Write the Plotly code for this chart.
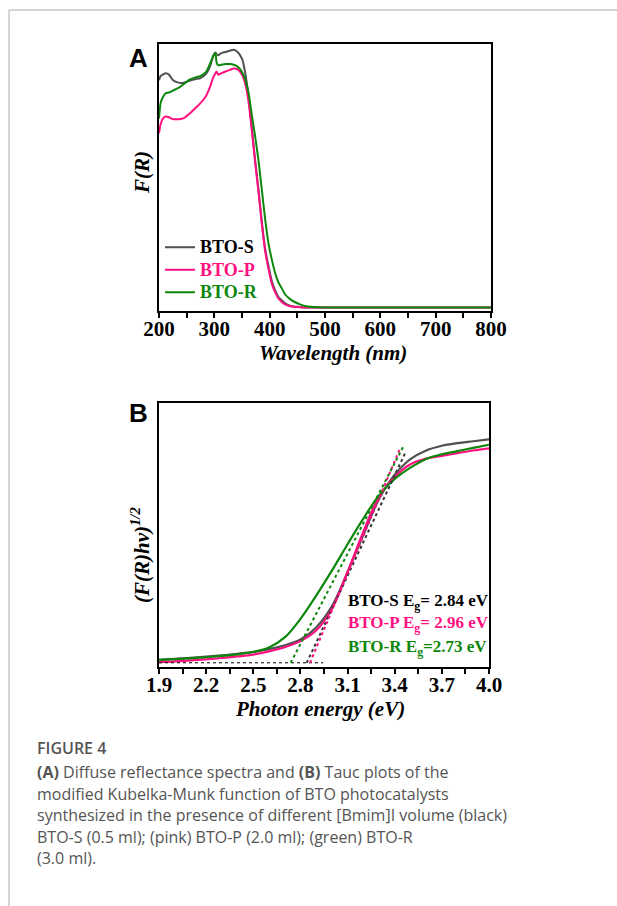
import plotly.graph_objects as go

W, H = 617, 906

# ---------------- Panel A data ----------------
wavelength = [200, 203, 207, 212, 218, 225, 235, 245, 255, 265, 275, 285, 292, 298, 302, 304, 307,
              312, 320, 328, 335, 342, 350, 356, 362, 368, 374, 380, 386, 392, 398, 404, 410, 416,
              422, 428, 434, 440, 448, 456, 466, 480, 500, 550, 600, 650, 700, 750, 800]
fr_bto_s = [0.864, 0.88, 0.885, 0.89, 0.885, 0.865, 0.855, 0.855, 0.862, 0.868, 0.872, 0.888, 0.915,
            0.955, 0.968, 0.962, 0.958, 0.965, 0.970, 0.975, 0.978, 0.970, 0.945, 0.89, 0.80, 0.68,
            0.56, 0.45, 0.33, 0.23, 0.165, 0.11, 0.075, 0.05, 0.038, 0.027, 0.02, 0.016, 0.014,
            0.012, 0.011, 0.011, 0.011, 0.011, 0.011, 0.011, 0.011, 0.011, 0.011]
fr_bto_p = [0.665, 0.70, 0.72, 0.728, 0.725, 0.718, 0.718, 0.722, 0.738, 0.758, 0.778, 0.805, 0.838,
            0.875, 0.89, 0.897, 0.885, 0.89, 0.897, 0.903, 0.908, 0.905, 0.885, 0.85, 0.78, 0.67,
            0.55, 0.44, 0.32, 0.22, 0.155, 0.10, 0.068, 0.045, 0.032, 0.023, 0.018, 0.015, 0.013,
            0.012, 0.011, 0.011, 0.011, 0.011, 0.011, 0.011, 0.011, 0.011, 0.011]
fr_bto_r = [0.72, 0.78, 0.80, 0.815, 0.818, 0.825, 0.835, 0.85, 0.866, 0.874, 0.88, 0.895, 0.925,
            0.955, 0.965, 0.93, 0.92, 0.922, 0.925, 0.925, 0.922, 0.915, 0.895, 0.865, 0.815, 0.73,
            0.65, 0.56, 0.45, 0.34, 0.25, 0.19, 0.14, 0.105, 0.083, 0.06, 0.048, 0.038, 0.029,
            0.022, 0.016, 0.013, 0.011, 0.011, 0.011, 0.011, 0.011, 0.011, 0.011]
a_ticks = [200, 300, 400, 500, 600, 700, 800]

# ---------------- Panel B data ----------------
energy = [1.9, 2.0, 2.1, 2.2, 2.3, 2.4, 2.5, 2.6, 2.7, 2.8, 2.9, 3.0, 3.1, 3.2, 3.3, 3.4, 3.5, 3.6,
          3.7, 3.8, 3.9, 4.0]
tauc_bto_s = [0.027, 0.031, 0.035, 0.039, 0.044, 0.050, 0.057, 0.068, 0.082, 0.104, 0.15, 0.23,
              0.36, 0.50, 0.636, 0.728, 0.787, 0.82, 0.838, 0.848, 0.855, 0.862]
tauc_bto_p = [0.018, 0.021, 0.025, 0.029, 0.034, 0.040, 0.047, 0.059, 0.075, 0.098, 0.138, 0.22,
              0.36, 0.512, 0.645, 0.72, 0.768, 0.79, 0.80, 0.81, 0.82, 0.828]
tauc_bto_r = [0.027, 0.030, 0.033, 0.037, 0.042, 0.048, 0.057, 0.074, 0.112, 0.182, 0.27, 0.365,
              0.465, 0.562, 0.65, 0.712, 0.755, 0.788, 0.806, 0.818, 0.83, 0.842]
b_ticks = [1.9, 2.2, 2.5, 2.8, 3.1, 3.4, 3.7, 4.0]

# tangent (extrapolation) lines: start on baseline at intercept, end at top point
names = ["BTO-S", "BTO-P", "BTO-R"]
tangent_e0 = [2.84, 2.861, 2.738]
tangent_e1 = [3.466, 3.43, 3.46]
tangent_v1 = [0.81, 0.822, 0.841]
baseline_e = [1.9, 2.945]
baseline_v = [0.016, 0.016]
eg_labels = ["BTO-S E<sub>g</sub>= 2.84 eV", "BTO-P E<sub>g</sub>= 2.96 eV", "BTO-R E<sub>g</sub>=2.73 eV"]

colors = ["#505050", "#ff1080", "#0c870c"]
text_colors = ["#000000", "#ff1080", "#0c870c"]

caption_lines = [
    "<b>(A)</b> Diffuse reflectance spectra and <b>(B)</b> Tauc plots of the",
    "modified Kubelka-Munk function of BTO photocatalysts",
    "synthesized in the presence of different [Bmim]I volume (black)",
    "BTO-S (0.5 ml); (pink) BTO-P (2.0 ml); (green) BTO-R",
    "(3.0 ml).",
]

SERIF = "Liberation Serif"

def px(x):
    return x / W

def py(y):
    return 1 - y / H

fig = go.Figure()

series_a = [fr_bto_s, fr_bto_p, fr_bto_r]
for i in range(3):
    fig.add_trace(go.Scatter(
        x=wavelength, y=series_a[i], mode="lines",
        line=dict(color=colors[i], width=2, shape="spline", smoothing=0.6),
        name=f"<span style='color:{text_colors[i]};font-size:18px'>{names[i]}</span>",
        xaxis="x", yaxis="y", showlegend=True))

series_b = [tauc_bto_s, tauc_bto_p, tauc_bto_r]
for i in range(3):
    fig.add_trace(go.Scatter(
        x=energy, y=series_b[i], mode="lines",
        line=dict(color=colors[i], width=2.2, shape="spline", smoothing=1.0),
        xaxis="x2", yaxis="y2", showlegend=False))

fig.add_trace(go.Scatter(x=baseline_e, y=baseline_v, mode="lines",
                         line=dict(color="#000000", width=1, dash="dot"),
                         xaxis="x2", yaxis="y2", showlegend=False))
tan_colors = ["#333333", "#ff1080", "#0c870c"]
for i in range(3):
    fig.add_trace(go.Scatter(
        x=[tangent_e0[i], tangent_e1[i]], y=[baseline_v[0], tangent_v1[i]], mode="lines",
        line=dict(color=tan_colors[i], width=2, dash="dot"),
        xaxis="x2", yaxis="y2", showlegend=False))

tickfont = dict(family=SERIF, size=21, color="black", weight="bold")
axis_common = dict(showline=True, linecolor="black", linewidth=2, mirror=True, showgrid=False,
                   zeroline=False)

annotations = []
# panel letters
annotations.append(dict(x=px(138), y=py(58), xref="paper", yref="paper", text="<b>A</b>", showarrow=False,
                        font=dict(family="Liberation Sans", size=26, color="black"),
                        xanchor="center", yanchor="middle"))
annotations.append(dict(x=px(138), y=py(413), xref="paper", yref="paper", text="<b>B</b>", showarrow=False,
                        font=dict(family="Liberation Sans", size=26, color="black"),
                        xanchor="center", yanchor="middle"))
title_font = dict(family=SERIF, size=21, color="black", weight="bold", style="italic")
annotations.append(dict(x=px(333), y=py(353), xref="paper", yref="paper", text="Wavelength (nm)",
                        showarrow=False, font=title_font, xanchor="center", yanchor="middle"))
annotations.append(dict(x=px(142), y=py(173), xref="paper", yref="paper", text="F(R)", textangle=-90,
                        showarrow=False, font=title_font, xanchor="center", yanchor="middle"))
annotations.append(dict(x=px(320), y=py(709), xref="paper", yref="paper", text="Photon energy (eV)",
                        showarrow=False, font=title_font, xanchor="center", yanchor="middle"))
annotations.append(dict(x=px(140), y=py(555), xref="paper", yref="paper", text="(F(R)hν)<sup>1/2</sup>",
                        textangle=-90, showarrow=False, font=title_font, xanchor="center", yanchor="middle"))
# Eg labels
eg_y = [602, 624, 648]
for i in range(3):
    annotations.append(dict(x=px(346), y=py(eg_y[i]), xref="paper", yref="paper", text=eg_labels[i],
                            showarrow=False, xanchor="left", yanchor="middle",
                            font=dict(family=SERIF, size=17, color=text_colors[i], weight="bold")))
# caption
cap_font = dict(family="Open Sans", size=16, color="#555555")
annotations.append(dict(x=px(35), y=py(748), xref="paper", yref="paper", text="FIGURE 4", showarrow=False,
                        xanchor="left", yanchor="middle",
                        font=dict(family="Open Sans", size=16, color="#555555", weight=600)))
cap_y = [772, 793.5, 815, 836.5, 858]
for t, yy in zip(caption_lines, cap_y):
    annotations.append(dict(x=px(35), y=py(yy), xref="paper", yref="paper", text=t, showarrow=False,
                            xanchor="left", yanchor="middle", font=cap_font))

shapes = [
    dict(type="line", xref="paper", yref="paper", x0=px(9), x1=1, y0=py(10), y1=py(10),
         line=dict(color="#c8c8c8", width=1.5)),
    dict(type="line", xref="paper", yref="paper", x0=px(9), x1=px(9), y0=py(10), y1=0,
         line=dict(color="#c8c8c8", width=1.5)),
]

fig.update_layout(
    width=W, height=H, margin=dict(l=0, r=0, t=0, b=0, pad=0, autoexpand=False),
    paper_bgcolor="white", plot_bgcolor="white",
    xaxis=dict(domain=[px(159), px(491)], anchor="y", range=[200, 800], tickvals=a_ticks,
               ticks="outside", ticklen=5, tickwidth=1.5, tickcolor="black", tickfont=tickfont,
               ticklabelstandoff=-7,
               minor=dict(dtick=50, tick0=200, ticks="outside", ticklen=5, tickwidth=1.5, tickcolor="black"),
               **axis_common),
    yaxis=dict(domain=[py(310.5), py(44)], anchor="x", range=[0, 1], showticklabels=False, ticks="",
               **axis_common),
    xaxis2=dict(domain=[px(159), px(489)], anchor="y2", range=[1.9, 4.0], tickvals=b_ticks,
                tickformat=".1f", ticks="outside", ticklen=5, tickwidth=1.5, tickcolor="black",
                tickfont=tickfont, ticklabelstandoff=-7,
                minor=dict(dtick=0.15, tick0=1.9, ticks="outside", ticklen=5, tickwidth=1.5, tickcolor="black"),
                **axis_common),
    yaxis2=dict(domain=[py(667), py(403)], anchor="x2", range=[0, 1], showticklabels=False, ticks="",
                **axis_common),
    legend=dict(x=px(160), y=py(231), xanchor="left", yanchor="top", bgcolor="rgba(0,0,0,0)",
                font=dict(family=SERIF, size=15, color="black", weight="bold"), tracegroupgap=0,
                itemwidth=30),
    annotations=annotations, shapes=shapes,
)

fig.write_html("out.html", config={"displayModeBar": False},
               post_script="document.body.style.margin='0';document.body.style.padding='0';")
